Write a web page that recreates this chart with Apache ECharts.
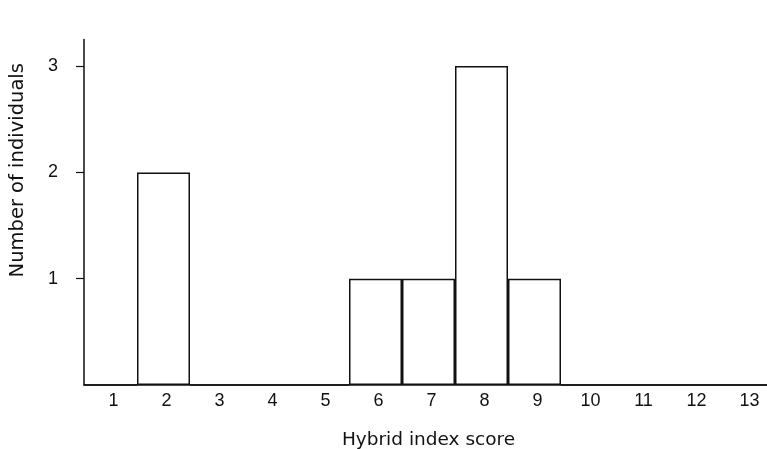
<!DOCTYPE html>
<html>
<head>
<meta charset="utf-8">
<script src="https://cdn.jsdelivr.net/npm/echarts@6/dist/echarts.min.js"></script>
<style>
html,body{margin:0;padding:0;background:#fff;}
#c{width:767px;height:449px;}
</style>
</head>
<body>
<div id="c"></div>
<script>
const categories = ['1','2','3','4','5','6','7','8','9','10','11','12','13'];
const counts = [0,2,0,0,0,1,1,3,1,0,0,0,0];
const yTicks = [1,2,3];

const chart = echarts.init(document.getElementById('c'), null, {renderer:'canvas'});
const ink = '#111111';
chart.setOption({
  animation:false,
  backgroundColor:'#fff',
  grid:{left:84, width:689, top:39.5, height:345.5, containLabel:false, outerBoundsMode:'none'},
  xAxis:{
    type:'category',
    data:categories,
    name:'Hybrid index score',
    nameLocation:'middle',
    nameGap:46,
    nameTextStyle:{color:ink, fontSize:18.5, fontFamily:'DejaVu Sans'},
    axisLine:{lineStyle:{color:ink, width:1.5}},
    axisTick:{show:false},
    axisLabel:{color:ink, fontSize:18, fontFamily:'Liberation Sans', margin:7, padding:[0,0,0,6]},
    splitLine:{show:false}
  },
  yAxis:{
    type:'value',
    min:0, max:3.25,
    name:'Number of individuals',
    nameLocation:'middle',
    nameGap:56,
    nameTextStyle:{color:ink, fontSize:19.5, fontFamily:'DejaVu Sans', padding:[0,0,0,84]},
    axisLine:{show:true, lineStyle:{color:ink, width:1.5}},
    axisTick:{show:true, length:8, customValues:yTicks, lineStyle:{color:ink, width:1.2}},
    axisLabel:{color:ink, fontSize:18, fontFamily:'Liberation Sans', margin:26, customValues:yTicks},
    splitLine:{show:false}
  },
  series:[{
    type:'bar',
    data:counts,
    barCategoryGap:'0%',
    itemStyle:{color:'#fff', borderColor:ink, borderWidth:1.5}
  }]
});
</script>
</body>
</html>
